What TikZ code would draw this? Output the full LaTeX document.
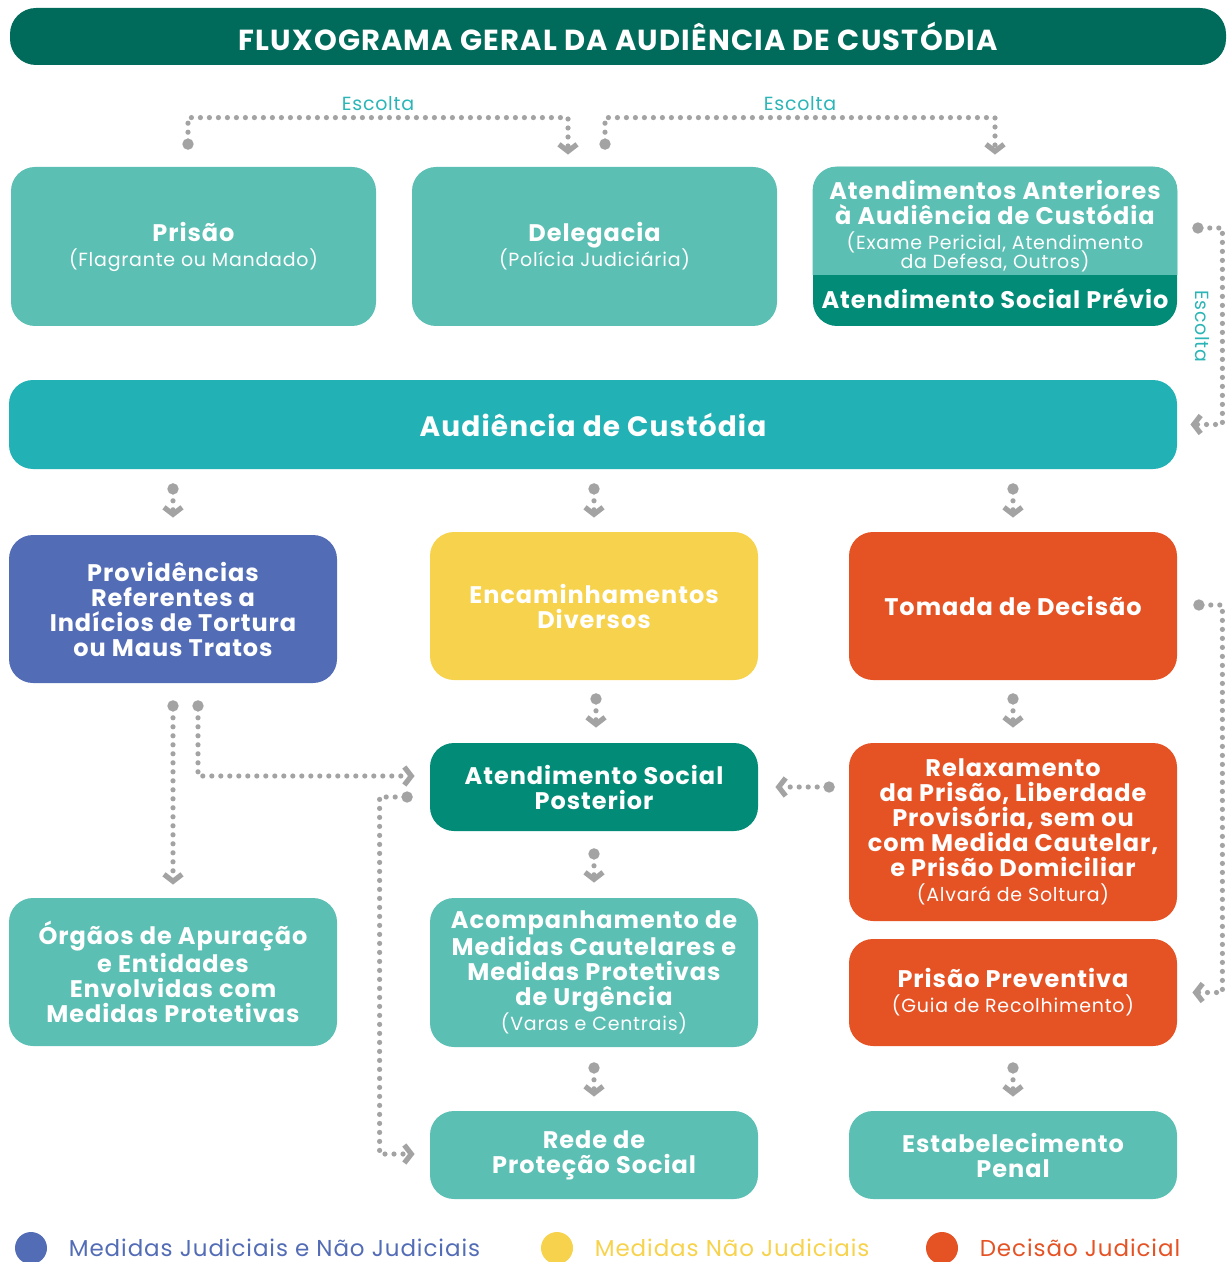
\documentclass[tikz,border=0pt]{standalone}
\usepackage{fontspec}
\setmainfont{Poppins}[LetterSpace=4]
\usetikzlibrary{arrows.meta, positioning, calc}

\definecolor{titlegreen}{HTML}{006B5A}
\definecolor{lightteal}{HTML}{5CBFB4}
\definecolor{darkteal}{HTML}{028C77}
\definecolor{audteal}{HTML}{22B2B5}
\definecolor{escteal}{HTML}{2BB5B7}
\definecolor{tortblue}{HTML}{536CB6}
\definecolor{encyellow}{HTML}{F7D24C}
\definecolor{decorange}{HTML}{E55325}
\definecolor{arrowgray}{HTML}{A3A3A3}

\newcommand{\subtxt}[1]{{\mdseries\fontsize{9.5}{10}\selectfont #1}}

\begin{document}
\begin{tikzpicture}[
    x=0.5pt, y=-0.5pt,
    % Define styles for the different node types
    box/.style={rectangle, rounded corners=12pt, text=white, align=center, inner sep=2pt, font=\bfseries\fontsize{12}{12.5}\selectfont},
    tealbox/.style={box, fill=lightteal},
    darkbox/.style={box, fill=darkteal},
    bluebox/.style={box, fill=tortblue},
    yellowbox/.style={box, fill=encyellow},
    orangebox/.style={box, fill=decorange},
    rowbox/.style={minimum width=182.5pt, minimum height=79.5pt},
    colbox/.style={minimum width=164pt, minimum height=74pt},
    conn/.style={draw=arrowgray, line width=2.6pt, line cap=round, dash pattern=on 0pt off 4.5pt, arrows={Circle[length=5.5pt]-Straight Barb[length=3.5pt,width=9pt]}},
    esc/.style={text=escteal, font=\fontsize{9.5}{11}\selectfont, inner sep=2pt},
    legdot/.style={circle, minimum size=16pt, inner sep=0pt},
    legtext/.style={inner sep=0pt, font=\fontsize{11.5}{13}\selectfont},
]
\useasboundingbox (0,0) rectangle (1228,1262);

% -------------------------
% Title
% -------------------------
\node (title) [box, fill=titlegreen, rounded corners=13pt, minimum width=608pt, minimum height=28.5pt, font=\bfseries\fontsize{14.5}{16}\selectfont] at (618,36.5) {FLUXOGRAMA GERAL DA AUDIÊNCIA DE CUSTÓDIA};

% -------------------------
% First row
% -------------------------
\node (prisao) [tealbox, rowbox] at (193.5,246.5) {Prisão\\\subtxt{(Flagrante ou Mandado)}};
\node (deleg) [tealbox, rowbox] at (594.5,246.5) {Delegacia\\\subtxt{(Polícia Judiciária)}};

% Split box: light upper part, dark lower part
\node (atend) [darkbox, rowbox, minimum width=182pt] at (995,246.5) {};
\begin{scope}
    \clip (atend.north west) rectangle ($(atend.east)+(0,28.5)$);
    \fill[lightteal, rounded corners=12pt] (atend.south west) rectangle (atend.north east);
\end{scope}
\node (ant) [box] at ($(atend.north)+(0,60)$) {Atendimentos Anteriores\\à Audiência de Custódia\\\subtxt{(Exame Pericial, Atendimento}\\[-3pt]\subtxt{da Defesa, Outros)}};
\node (prev) [box] at ($(atend.south)+(0,-28)$) {Atendimento Social Prévio};

\node (aud) [box, fill=audteal, minimum width=584pt, minimum height=44.5pt, font=\bfseries\fontsize{14}{16}\selectfont] at (593,424.5) {Audiência de Custódia};

% -------------------------
% Columns
% -------------------------
\node (provid) [bluebox, colbox] at (173,609) {Providências\\Referentes a\\Indícios de Tortura\\ou Maus Tratos};
\node (encam) [yellowbox, colbox] at (594,606) {Encaminhamentos\\Diversos};
\node (tomada) [orangebox, colbox] at (1013,606) {Tomada de Decisão};

\node (posterior) [darkbox, colbox, minimum height=44pt] at (594,787) {Atendimento Social\\Posterior};
\node (relax) [orangebox, colbox, minimum height=89pt] at (1013,832) {Relaxamento\\da Prisão, Liberdade\\Provisória, sem ou\\com Medida Cautelar,\\e Prisão Domiciliar\\\subtxt{(Alvará de Soltura)}};
\node (preventiva) [orangebox, colbox, minimum height=53.5pt] at (1013,992.5) {Prisão Preventiva\\\subtxt{(Guia de Recolhimento)}};

\node (orgaos) [tealbox, colbox] at (173,972) {Órgãos de Apuração\\e Entidades\\Envolvidas com\\Medidas Protetivas};
\node (acomp) [tealbox, colbox, minimum height=74.5pt] at (594,972.5) {Acompanhamento de\\Medidas Cautelares e\\Medidas Protetivas\\de Urgência\\\subtxt{(Varas e Centrais)}};

\node (rede) [tealbox, colbox, minimum height=44pt] at (594,1155) {Rede de\\Proteção Social};
\node (estab) [tealbox, colbox, minimum height=44pt] at (1013,1155) {Estabelecimento\\Penal};

% -------------------------
% Legend
% -------------------------
\node (legblue) [legdot, fill=tortblue] at (31,1248) {};
\node (legbluetxt) [legtext, text=tortblue, right=10.5pt of legblue] {Medidas Judiciais e Não Judiciais};
\node (legyellow) [legdot, fill=encyellow] at (557,1248) {};
\node (legyellowtxt) [legtext, text=encyellow, right=10.5pt of legyellow] {Medidas Não Judiciais};
\node (legorange) [legdot, fill=decorange] at (942,1248) {};
\node (legorangetxt) [legtext, text=decorange, right=10.5pt of legorange] {Decisão Judicial};

% -------------------------
% Arrow Connections
% -------------------------

% Escolta connectors
\draw[conn] ($(prisao.north)+(-5.5,-17)$) -- ++(0,-32) -| node[pos=0.25, above, esc] {Escolta} ($(deleg.north)+(-26.5,-12)$);
\draw[conn] ($(deleg.north)+(10.5,-17)$) -- ++(0,-32) -| node[pos=0.25, above, esc] {Escolta} ($(atend.north)+(0,-12)$);
\draw[conn] ($(atend.east)+(15,-18.5)$) -- ++(30,0) |- node[pos=0.25, rotate=-90, anchor=north, esc, yshift=-3pt] {Escolta} ($(aud.east)+(13,0)$);

% Audiencia to the three columns
\draw[conn] ($(aud.south -| provid)+(0,14)$) -- ($(provid.north)+(0,-17)$);
\draw[conn] ($(aud.south -| encam)+(0,14)$) -- ($(encam.north)+(0,-14)$);
\draw[conn] ($(aud.south -| tomada)+(0,14)$) -- ($(tomada.north)+(0,-14)$);

% Middle column
\draw[conn] ($(encam.south)+(2,13)$) -- ($(posterior.north)+(2,-15)$);
\draw[conn] ($(posterior.south)+(0,17)$) -- ($(acomp.north)+(0,-15)$);
\draw[conn] ($(acomp.south)+(0,15)$) -- ($(rede.north)+(0,-14)$);

% Right column
\draw[conn] ($(tomada.south)+(0,13)$) -- ($(relax.north)+(0,-15)$);
\draw[conn] ($(preventiva.south)+(0,16)$) -- ($(estab.north)+(0,-14)$);
\draw[conn] ($(tomada.east)+(16,-1)$) -- ++(29,0) |- ($(preventiva.east)+(15,0)$);
\draw[conn] ($(relax.west |- posterior)+(-14,0)$) -- ($(posterior.east)+(17,0)$);

% Left column
\draw[conn] ($(provid.south)+(0,17)$) -- ($(orgaos.north)+(0,-13)$);
\draw[conn] ($(provid.south)+(25,17)$) |- ($(posterior.west)+(-15,-11)$);
\draw[conn] ($(posterior.west)+(-17,10)$) -- ++(-33,0) |- ($(rede.west)+(-15,-1)$);

\end{tikzpicture}
\end{document}
